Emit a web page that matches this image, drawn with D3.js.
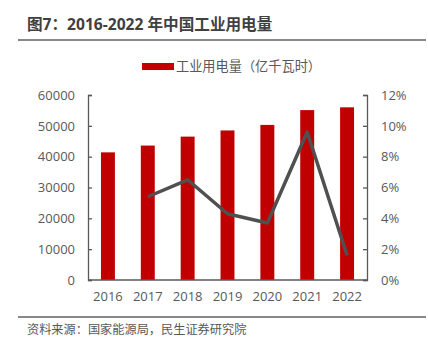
<!DOCTYPE html>
<html><head><meta charset="utf-8">
<script src="https://cdn.jsdelivr.net/npm/d3@7"></script>
<style>body{margin:0;background:#fff;}svg{display:block;font-family:"Noto Sans CJK SC","Open Sans",sans-serif;}</style>
</head><body><svg id="c" width="428" height="343"></svg>
<script>
const years = ["2016","2017","2018","2019","2020","2021","2022"];
const power = [41400, 43600, 46500, 48500, 50300, 55100, 56000];
const growth = [null, 5.4, 6.5, 4.3, 3.7, 9.6, 1.6];
const leftTicks = [0,10000,20000,30000,40000,50000,60000];
const rightTicks = [0,2,4,6,8,10,12];
const title = "图7：2016-2022 年中国工业用电量";
const legendLabel = "工业用电量（亿千瓦时）";
const source = "资料来源：国家能源局，民生证券研究院";

const svg = d3.select("#c");
const m = {l:88, r:367, t:95, b:280};
const x = d3.scaleBand().domain(years).range([m.l, m.r]).paddingInner(0.65).paddingOuter(0.325);
const yL = d3.scaleLinear().domain([0,60000]).range([m.b, m.t]);
const yR = d3.scaleLinear().domain([0,12]).range([m.b, m.t]);
const txt = "#595959";

svg.append("text").attr("x",27).attr("y",29.5).attr("font-size",15.6).attr("font-weight","bold")
  .attr("font-family",'"Open Sans","Noto Sans CJK SC",sans-serif')
  .attr("fill","#404040").text(title);
svg.append("line").attr("x1",18).attr("x2",426).attr("y1",40).attr("y2",40).attr("stroke","#606060").attr("stroke-width",1.5);

// legend
svg.append("rect").attr("x",142).attr("y",63).attr("width",32).attr("height",7).attr("fill","#C00000");
svg.append("text").attr("x",176).attr("y",71).attr("font-size",13.2).attr("fill",txt).text(legendLabel);

// bars
svg.selectAll(".bar").data(years).enter().append("rect")
  .attr("x",d=>x(d)).attr("width",x.bandwidth())
  .attr("y",(d,i)=>yL(power[i])).attr("height",(d,i)=>yL(0)-yL(power[i]))
  .attr("fill","#C00000");

// line
const pts = years.map((d,i)=>[d,growth[i]]).filter(p=>p[1]!==null);
svg.append("path").datum(pts)
  .attr("d", d3.line().x(p=>x(p[0])+x.bandwidth()/2).y(p=>yR(p[1])))
  .attr("fill","none").attr("stroke","#505050").attr("stroke-width",3.5).attr("stroke-linejoin","round");

// axes
const axL = svg.append("g").attr("transform",`translate(${m.l},0)`)
  .call(d3.axisRight(yL).tickValues(leftTicks).tickSize(4).tickFormat(d3.format("d")));
axL.selectAll("text").attr("x",-13).attr("text-anchor","end");
const axR = svg.append("g").attr("transform",`translate(${m.r},0)`)
  .call(d3.axisLeft(yR).tickValues(rightTicks).tickSize(4).tickFormat(d=>d+"%"));
axR.selectAll("text").attr("x",14).attr("text-anchor","start");
const axB = svg.append("g").attr("transform",`translate(0,${m.b})`)
  .call(d3.axisBottom(x).tickSize(0).tickPadding(12));
[axL,axR,axB].forEach(a=>{
  a.select(".domain").attr("stroke","#595959").attr("stroke-width",1.3);
  a.selectAll(".tick line").attr("stroke","#595959").attr("stroke-width",1.3);
  a.selectAll("text").attr("font-size",13).attr("fill",txt).attr("font-family",'"Open Sans","Noto Sans",sans-serif');
});
axB.select(".domain").attr("d",`M${m.l},0H${m.r}`);

svg.append("line").attr("x1",18).attr("x2",426).attr("y1",317).attr("y2",317).attr("stroke","#606060").attr("stroke-width",1.5);
svg.append("text").attr("x",27).attr("y",334).attr("font-size",12.2).attr("fill",txt).text(source);
</script></body></html>
